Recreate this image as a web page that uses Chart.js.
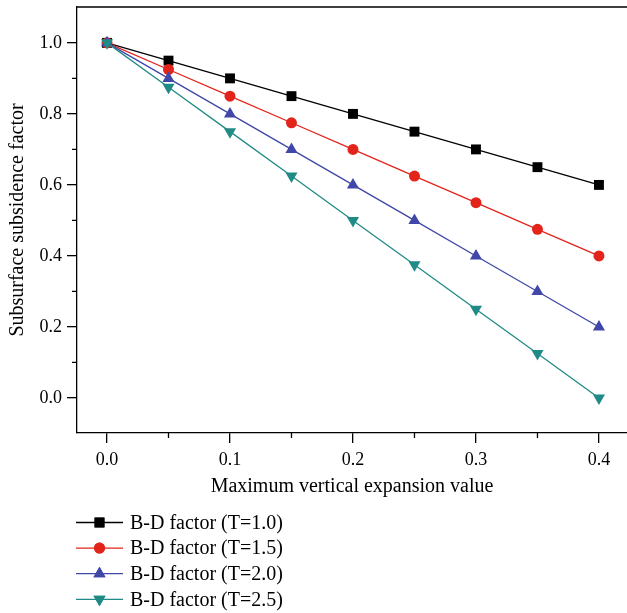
<!DOCTYPE html>
<html lang="en">
<head>
  <meta charset="UTF-8">
  <title>Subsurface subsidence factor</title>
  <script src="https://cdn.jsdelivr.net/npm/chart.js"></script>
  <style>
    body {
      margin: 0;
      background: #fff;
    }
    #wrap {
      width: 627px;
      height: 613px;
    }
  </style>
</head>
<body>
  <div id="wrap"><canvas id="grafico" width="627" height="613"></canvas></div>

  <script>
    // values
    const expansion = [0.0, 0.05, 0.1, 0.15, 0.2, 0.25, 0.3, 0.35, 0.4];
    const t10 = [1.0, 0.95, 0.9, 0.85, 0.8, 0.75, 0.7, 0.65, 0.6];
    const t15 = [1.0, 0.925, 0.85, 0.775, 0.7, 0.625, 0.55, 0.475, 0.4];
    const t20 = [1.0, 0.9, 0.8, 0.7, 0.6, 0.5, 0.4, 0.3, 0.2];
    const t25 = [1.0, 0.875, 0.75, 0.625, 0.5, 0.375, 0.25, 0.125, 0.0];
    const seriesLabels = ['B-D factor (T=1.0)', 'B-D factor (T=1.5)', 'B-D factor (T=2.0)', 'B-D factor (T=2.5)'];
    const xTicks = [0.0, 0.1, 0.2, 0.3, 0.4];
    const yTicks = [0.0, 0.2, 0.4, 0.6, 0.8, 1.0];
    const xMinor = [0.05, 0.15, 0.25, 0.35];
    const yMinor = [0.1, 0.3, 0.5, 0.7, 0.9];

    const FONT = 'Liberation Serif';
    const cores = ['#000000', '#e3241b', '#4047a8', '#208b86'];
    const formas = [
      { style: 'rect', r: 7, rot: 0 },
      { style: 'circle', r: 5.5, rot: 0 },
      { style: 'triangle', r: 7, rot: 0 },
      { style: 'triangle', r: 7, rot: 180 }
    ];
    const valores = [t10, t15, t20, t25];

    const datasets = valores.map((v, i) => ({
      label: seriesLabels[i],
      data: expansion.map((x, j) => ({ x: x, y: v[j] })),
      borderColor: cores[i],
      backgroundColor: cores[i],
      borderWidth: 1.3,
      pointStyle: formas[i].style,
      pointRadius: formas[i].r,
      pointRotation: formas[i].rot,
      pointBorderWidth: 0,
      order: 3 - i
    }));

    const extras = {
      id: 'extras',
      afterDraw(chart) {
        const { ctx, chartArea } = chart;
        const sx = chart.scales.x, sy = chart.scales.y;
        ctx.save();
        ctx.strokeStyle = '#000';
        ctx.lineWidth = 1.3;
        ctx.beginPath();
        // top frame line
        ctx.moveTo(chartArea.left, chartArea.top);
        ctx.lineTo(chartArea.right, chartArea.top);
        // minor ticks
        xMinor.forEach(v => {
          const px = sx.getPixelForValue(v);
          ctx.moveTo(px, chartArea.bottom);
          ctx.lineTo(px, chartArea.bottom + 5);
        });
        yMinor.forEach(v => {
          const py = sy.getPixelForValue(v);
          ctx.moveTo(chartArea.left, py);
          ctx.lineTo(chartArea.left - 5, py);
        });
        ctx.stroke();

        // legend under the plot
        ctx.font = '20px "' + FONT + '"';
        ctx.textBaseline = 'middle';
        ctx.textAlign = 'left';
        datasets.forEach((d, i) => {
          const y = 522.5 + i * 25.6;
          ctx.strokeStyle = cores[i];
          ctx.lineWidth = 1.3;
          ctx.beginPath();
          ctx.moveTo(76, y);
          ctx.lineTo(123, y);
          ctx.stroke();
          ctx.fillStyle = cores[i];
          Chart.helpers.drawPoint(ctx, { pointStyle: formas[i].style, radius: formas[i].r, rotation: formas[i].rot, borderWidth: 0 }, 99.5, y);
          ctx.fill();
          ctx.fillStyle = '#000';
          ctx.fillText(d.label, 130, y + 1);
        });
        ctx.restore();
      }
    };

    const eixo = {
      grid: { drawOnChartArea: false, color: '#000', lineWidth: 1.3, tickLength: 10 },
      border: { color: '#000', width: 1.3 },
      ticks: { color: '#000', font: { family: FONT, size: 18 }, callback: v => v.toFixed(1) }
    };

    new Chart(document.getElementById('grafico'), {
      type: 'line',
      data: { datasets: datasets },
      options: {
        responsive: false,
        animation: false,
        layout: { autoPadding: false, padding: { top: 7, right: 0, left: 0, bottom: 110 } },
        scales: {
          x: {
            type: 'linear',
            min: -0.0244,
            max: 0.4228,
            grid: eixo.grid,
            border: eixo.border,
            ticks: Object.assign({}, eixo.ticks, { padding: 6, maxRotation: 0 }),
            afterBuildTicks: s => { s.ticks = xTicks.map(v => ({ value: v })); },
            afterFit: s => { s.height = 70; s.paddingLeft = 0; s.paddingRight = 0; },
            title: {
              display: true,
              text: 'Maximum vertical expansion value',
              color: '#000',
              font: { family: FONT, size: 20 },
              padding: { top: 0, bottom: 4 }
            }
          },
          y: {
            min: -0.0986,
            max: 1.101,
            grid: eixo.grid,
            border: eixo.border,
            ticks: Object.assign({}, eixo.ticks, { padding: 5 }),
            afterBuildTicks: s => { s.ticks = yTicks.map(v => ({ value: v })); },
            afterFit: s => { s.width = 77; s.paddingTop = 0; s.paddingBottom = 0; },
            title: {
              display: true,
              text: 'Subsurface subsidence factor',
              color: '#000',
              font: { family: FONT, size: 20 },
              padding: { top: 6, bottom: 0 }
            }
          }
        },
        plugins: {
          legend: { display: false },
          tooltip: { enabled: false }
        }
      },
      plugins: [extras]
    });
  </script>
</body>
</html>
